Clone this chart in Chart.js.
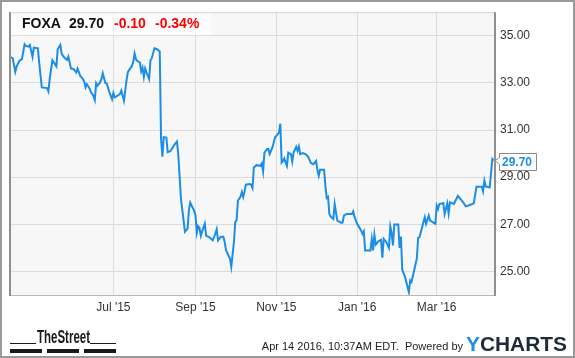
<!DOCTYPE html>
<html>
<head>
<meta charset="utf-8">
<script src="https://cdn.jsdelivr.net/npm/chart.js@4"></script>
<style>
  html, body { margin: 0; padding: 0; background: #fff; }
  canvas { display: block; }
</style>
</head>
<body>
<canvas id="foxa-chart" width="575" height="358"></canvas>
<script>
// Header / footer texts
const ticker = 'FOXA';
const change = '-0.10';
const changePct = '-0.34%';
const stampText = 'Apr 14 2016, 10:37AM EDT.  Powered by';

// Day offsets counted from Apr 14 2015
const days = [
  0, 2, 4, 5, 7, 9, 11, 12, 14, 15,
  17, 18, 21, 22, 24, 28, 29, 30, 32, 35,
  36, 38, 39, 41, 43, 44, 46, 48, 50, 51,
  53, 55, 56, 57, 58, 60, 61, 63, 64, 65,
  66, 68, 69, 70, 72, 73, 75, 77, 78, 79,
  81, 83, 84, 86, 88, 89, 92, 93, 94, 95,
  96, 98, 99, 100, 101, 102, 103, 105, 106, 107,
  109, 111, 113, 114, 115, 116, 118, 119, 121, 124,
  126, 127, 129, 131, 132, 134, 135, 136, 139, 140,
  141, 142, 143, 144, 145, 147, 148, 150, 153, 155,
  156, 157, 159, 161, 162, 163, 166, 167, 169, 170,
  171, 172, 174, 175, 176, 177, 178, 181, 182, 183,
  184, 186, 189, 190, 191, 192, 194, 195, 196, 198,
  200, 201, 203, 204, 205, 206, 207, 208, 209, 210,
  212, 213, 214, 216, 217, 218, 219, 221, 223, 225,
  227, 229, 231, 232, 233, 234, 237, 238, 239, 240,
  241, 242, 244, 245, 247, 250, 251, 252, 254, 258,
  259, 260, 262, 265, 266, 267, 268, 272, 273, 274,
  275, 276, 278, 280, 281, 282, 284, 286, 287, 288,
  289, 290, 293, 294, 295, 296, 298, 301, 302, 303,
  307, 308, 309, 313, 314, 316, 317, 321, 322, 323,
  324, 327, 328, 330, 331, 332, 335, 338, 340, 342,
  344, 347, 350, 352, 356, 357, 358, 359, 362, 364,
  365
];

const prices = [
  34.10, 34.05, 33.47, 33.70, 33.93, 34.01, 34.64, 34.57, 34.54, 34.61,
  34.10, 34.50, 34.47, 33.87, 32.81, 32.78, 32.64, 33.19, 33.96, 33.70,
  34.43, 34.61, 34.22, 34.08, 33.98, 34.12, 33.61, 33.58, 33.44, 33.61,
  33.30, 33.16, 33.05, 32.81, 32.95, 32.77, 32.62, 32.45, 32.28, 32.99,
  32.88, 33.02, 33.16, 33.41, 32.99, 32.98, 32.60, 32.31, 32.57, 32.39,
  32.45, 32.53, 32.67, 32.24, 33.13, 33.47, 33.72, 33.89, 34.25, 34.01,
  33.93, 33.87, 33.49, 33.65, 33.26, 33.61, 33.44, 33.16, 33.96, 34.05,
  34.47, 34.43, 34.33, 30.62, 29.87, 30.70, 30.68, 30.06, 30.10, 30.37,
  30.51, 29.95, 28.09, 27.17, 26.68, 26.82, 27.59, 27.92, 27.57, 27.38,
  26.64, 26.92, 26.85, 26.51, 26.70, 27.03, 26.51, 26.47, 26.32, 26.61,
  26.79, 26.32, 26.47, 26.47, 26.26, 25.90, 25.55, 25.20, 26.26, 27.10,
  27.17, 28.01, 28.18, 28.37, 28.16, 28.40, 28.68, 28.71, 28.68, 28.54,
  29.41, 29.51, 29.48, 29.58, 29.24, 30.04, 30.19, 30.19, 29.98, 30.26,
  30.68, 30.75, 30.89, 31.27, 29.62, 29.69, 29.79, 29.62, 29.48, 30.04,
  29.98, 29.66, 30.04, 30.29, 30.12, 30.30, 29.98, 30.02, 29.98, 29.87,
  29.60, 29.55, 29.69, 29.30, 29.06, 29.31, 29.31, 28.64, 28.12, 28.17,
  27.44, 27.33, 27.23, 27.86, 27.16, 27.06, 27.08, 27.37, 27.44, 27.44,
  27.55, 27.30, 27.02, 26.73, 26.59, 26.70, 25.89, 25.89, 26.38, 25.89,
  26.55, 26.14, 26.28, 26.34, 25.58, 26.38, 26.24, 26.00, 26.90, 26.62,
  26.10, 26.99, 26.99, 26.00, 26.48, 25.07, 24.79, 24.12, 24.62, 24.55,
  25.54, 26.42, 26.45, 27.30, 27.02, 27.37, 27.16, 27.02, 27.79, 27.65,
  27.86, 27.90, 27.44, 27.89, 27.46, 27.93, 27.86, 28.21, 28.07, 27.93,
  27.76, 27.82, 27.89, 28.59, 28.59, 28.40, 28.85, 28.61, 28.56, 29.77,
  29.70
];

// Axis ticks
const xTickDays = [78, 140, 201, 262, 322];
const xTickLabels = ["Jul '15", "Sep '15", "Nov '15", "Jan '16", "Mar '16"];
const yTicks = [25, 27, 29, 31, 33, 35];

const FONT = '"Liberation Sans", Arial, sans-serif';
const lineBlue = '#1b8de6';
const lastPrice = prices[prices.length - 1].toFixed(2);

const points = days.map((d, i) => ({ x: d, y: prices[i] }));

// draws plot background, borders, header, price tag and footer
const decorPlugin = {
  id: 'decor',
  beforeDraw(chart) {
    const { ctx, chartArea: a } = chart;
    ctx.save();
    ctx.fillStyle = '#f7f7f7';
    ctx.fillRect(a.left, a.top, a.right - a.left, a.bottom - a.top);
    ctx.restore();
  },
  afterDraw(chart) {
    const { ctx, chartArea: a } = chart;
    ctx.save();

    // plot borders
    ctx.lineWidth = 1;
    ctx.strokeStyle = '#d4d4d4';
    ctx.beginPath();
    ctx.moveTo(a.left, a.top + 0.5);
    ctx.lineTo(a.right, a.top + 0.5);
    ctx.stroke();
    ctx.strokeStyle = '#b8b8b8';
    ctx.beginPath();
    ctx.moveTo(a.left, a.bottom + 0.5);
    ctx.lineTo(a.right, a.bottom + 0.5);
    ctx.stroke();
    ctx.lineWidth = 2;
    ctx.strokeStyle = '#8f8f8f';
    ctx.beginPath();
    ctx.moveTo(a.left, a.top);
    ctx.lineTo(a.left, a.bottom + 1);
    ctx.moveTo(a.right, a.top);
    ctx.lineTo(a.right, a.bottom + 1);
    ctx.stroke();

    // outer frame
    ctx.strokeStyle = '#9a9a9a';
    ctx.lineWidth = 2;
    ctx.strokeRect(1, 1, 573, 356);

    // header box
    ctx.fillStyle = 'rgba(255,255,255,0.65)';
    ctx.fillRect(a.left + 1, a.top + 1, 200, 22);
    ctx.font = 'bold 14px ' + FONT;
    ctx.textBaseline = 'alphabetic';
    ctx.textAlign = 'left';
    ctx.fillStyle = '#111';
    ctx.fillText(ticker, 22, 28);
    ctx.fillText(lastPrice, 69, 28);
    ctx.fillStyle = '#f00';
    ctx.fillText(change, 114, 28);
    ctx.fillText(changePct, 155, 28);

    // last price tag
    const meta = chart.getDatasetMeta(0);
    const lp = meta.data[meta.data.length - 1];
    const ty = Math.round(lp.y) + 0.5;
    ctx.lineWidth = 1;
    ctx.strokeStyle = '#8a8a8a';
    ctx.fillStyle = '#fff';
    ctx.beginPath();
    ctx.moveTo(499.5, ty - 8);
    ctx.lineTo(536.5, ty - 8);
    ctx.lineTo(536.5, ty + 9);
    ctx.lineTo(499.5, ty + 9);
    ctx.lineTo(499.5, ty + 3);
    ctx.lineTo(495, ty - 1);
    ctx.lineTo(499.5, ty - 4);
    ctx.closePath();
    ctx.fill();
    ctx.stroke();
    ctx.font = 'bold 12px ' + FONT;
    ctx.fillStyle = lineBlue;
    ctx.textBaseline = 'middle';
    ctx.fillText(lastPrice, 502, ty + 1);

    // footer: TheStreet mark
    ctx.fillStyle = '#1a1a1a';
    ctx.fillRect(10, 343, 26, 1);
    ctx.fillRect(90, 343, 26, 1);
    ctx.fillRect(10, 349, 32, 4);
    ctx.fillRect(47, 349, 32, 4);
    ctx.fillRect(84, 349, 32, 4);
    ctx.font = 'bold 18px ' + FONT;
    ctx.textBaseline = 'alphabetic';
    const sw = ctx.measureText('TheStreet').width;
    ctx.save();
    ctx.translate(37, 343);
    ctx.scale(53 / sw, 1);
    ctx.fillText('TheStreet', 0, 0);
    ctx.restore();

    // footer: timestamp and YCharts
    ctx.font = '11px ' + FONT;
    ctx.fillStyle = '#222';
    ctx.textAlign = 'right';
    ctx.fillText(stampText, 463, 350);
    ctx.textAlign = 'left';
    ctx.font = 'bold 20px ' + FONT;
    const yw = ctx.measureText('Y').width;
    const cw = ctx.measureText('CHARTS').width;
    ctx.save();
    ctx.translate(466, 351);
    ctx.scale(101 / (yw + cw), 1);
    ctx.fillStyle = '#1a8fe3';
    ctx.fillText('Y', 0, 0);
    ctx.fillStyle = '#1c2a3a';
    ctx.fillText('CHARTS', yw, 0);
    ctx.restore();

    ctx.restore();
  }
};

new Chart(document.getElementById('foxa-chart'), {
  type: 'line',
  data: {
    datasets: [{
      data: points,
      borderColor: lineBlue,
      borderWidth: 2,
      pointRadius: 0,
      tension: 0,
      fill: false
    }]
  },
  options: {
    responsive: false,
    animation: false,
    devicePixelRatio: 1,
    layout: { padding: { left: 10, top: 10, right: 0, bottom: 0 } },
    plugins: {
      legend: { display: false },
      tooltip: { enabled: false }
    },
    scales: {
      x: {
        type: 'linear',
        min: 0,
        max: 366,
        afterBuildTicks: s => { s.ticks = xTickDays.map(v => ({ value: v })); },
        afterFit: s => { s.height = 63; },
        ticks: {
          callback: (v, i) => xTickLabels[i],
          font: { family: FONT, size: 12 },
          color: '#333',
          padding: 5,
          maxRotation: 0,
          autoSkip: false
        },
        grid: { color: '#dcdcdc', drawTicks: false },
        border: { display: false }
      },
      y: {
        type: 'linear',
        position: 'right',
        min: 24,
        max: 36,
        afterBuildTicks: s => { s.ticks = yTicks.map(v => ({ value: v })); },
        afterFit: s => { s.width = 80; },
        ticks: {
          callback: v => v.toFixed(2),
          font: { family: FONT, size: 12 },
          color: '#333',
          padding: 5
        },
        grid: { color: '#dcdcdc', drawTicks: false },
        border: { display: false }
      }
    }
  },
  plugins: [decorPlugin]
});
</script>
</body>
</html>
